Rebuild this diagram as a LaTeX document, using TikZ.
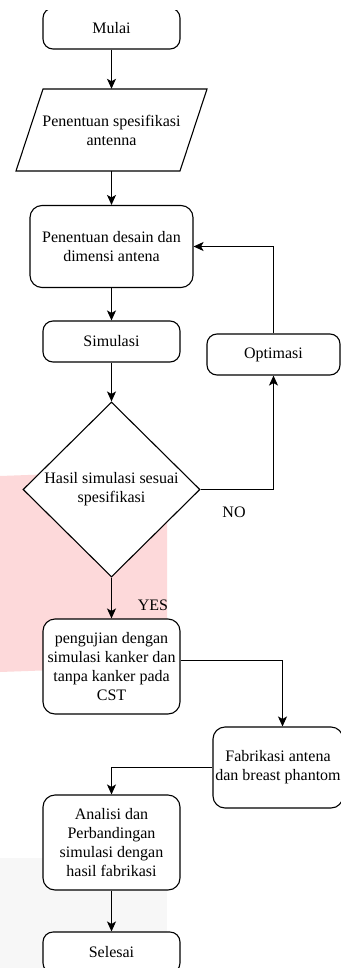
\documentclass[tikz,border=0pt]{standalone}
\usepackage{fontspec}
\setmainfont{Liberation Serif}
\usetikzlibrary{arrows.meta,shapes.geometric,calc}
\definecolor{pinkwm}{HTML}{FDD9DA}
\definecolor{greywm}{HTML}{F7F7F7}
\begin{document}
\begin{tikzpicture}[x=1pt,y=-1pt,
  txt/.style={font=\fontsize{16}{19}\selectfont,align=center},
  box/.style={txt,draw,rounded corners=10pt,line width=1.1pt,fill=white,inner sep=0pt},
  arr/.style={line width=1.1pt,-{Stealth[length=10pt,width=9pt,inset=2.5pt]}},
  lbl/.style={txt,inner sep=0pt}]
\fill[white] (0,0) rectangle (340,968);
\useasboundingbox (0,0) rectangle (340,968);
% watermark backgrounds
\fill[pinkwm] (0,476) -- (167,470) -- (167,666) -- (0,672) -- cycle;
\fill[greywm] (0,858) rectangle (167,968);
% nodes
\node[box, minimum width=137pt, minimum height=41pt] (mulai) at (111.5,28.5) {Mulai};
\fill[white] (30,0) rectangle (200,10.5);
\filldraw[fill=white, line width=1.1pt] (43,89) -- (207,89) -- (180,171) -- (16,171) -- cycle;
\node[lbl, minimum width=164pt, minimum height=82pt] (spec) at (111.5,130) {Penentuan spesifikasi\\antenna};
\node[box, rounded corners=12pt, minimum width=163pt, minimum height=82pt] (design) at (111.5,246.5) {Penentuan desain dan\\dimensi antena};
\node[box, minimum width=137pt, minimum height=41pt] (sim) at (111.5,341.5) {Simulasi};
\node[box, minimum width=133pt, minimum height=41pt] (opt) at (273.5,354.5) {Optimasi};
\node[txt, diamond, draw, line width=1.1pt, fill=white, inner sep=0pt, minimum width=177pt, minimum height=175pt] (dec) at (111.5,489.5) {Hasil simulasi sesuai\\spesifikasi};
\node[lbl] (no) at (234,512) {NO};
\node[lbl] (yes) at (153,605) {YES};
\node[box, rounded corners=12pt, minimum width=137pt, minimum height=95pt] (peng) at (111.5,666.5) {pengujian dengan\\simulasi kanker dan\\tanpa kanker pada\\CST};
\node[box, rounded corners=12pt, minimum width=130pt, minimum height=81pt] (fab) at (278,767.5) {Fabrikasi antena\\dan breast phantom};
\node[box, rounded corners=12pt, minimum width=137pt, minimum height=95pt] (anal) at (111.5,842.5) {Analisi dan\\Perbandingan\\simulasi dengan\\hasil fabrikasi};
\node[box, minimum width=137pt, minimum height=41pt] (sel) at (111.5,952.5) {Selesai};
% connectors
\draw[arr] (mulai.south) -- (spec.north);
\draw[arr] (spec.south) -- (design.north);
\draw[arr] (design.south) -- (sim.north);
\draw[arr] (sim.south) -- (dec.north);
\draw[arr] (opt.north) |- (design.east);
\draw[arr] (dec.east) -| (opt.south);
\draw[arr] (dec.south) -- (peng.north);
\draw[arr] ($(peng.east)+(0,-6)$) -| ($(fab.north)+(4.5,0)$);
\draw[arr] (fab.west) -| (anal.north);
\draw[arr] (anal.south) -- (sel.north);
\end{tikzpicture}
\end{document}
